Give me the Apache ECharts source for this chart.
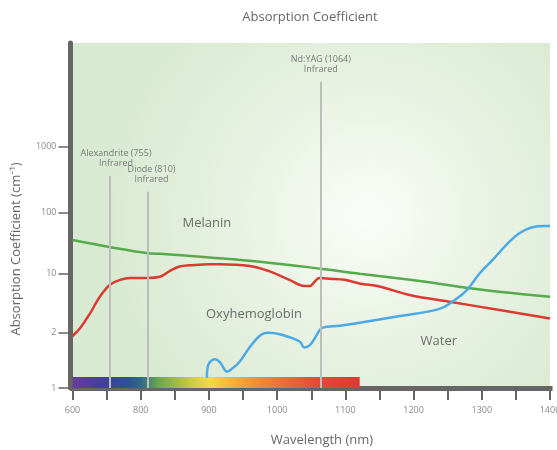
<!DOCTYPE html>
<html>
<head>
<meta charset="utf-8">
<script src="https://cdn.jsdelivr.net/npm/echarts@6/dist/echarts.min.js"></script>
<style>
  html, body { margin: 0; padding: 0; background: #ffffff; }
  #chart { width: 557px; height: 450px; }
</style>
</head>
<body>
<div id="chart"></div>
<script>
// ---------- data ----------
// x axis: wavelength (nm); tick labels exactly as printed on the reference
const xTickValues = [700, 800, 900, 1000, 1100, 1200, 1300, 1400];
const xTickLabels = ['600', '800', '900', '1000', '1100', '1200', '1300', '1400'];
// y axis: illustrative (non-linear) absorption scale, levels and printed labels
const yTickLevels = [0, 0.92, 1.89, 2.9, 4.0];
const yTickLabels = ['1', '2', '10', '100', '1000'];

// Melanin (green)
const melaninNm  = [700, 756, 811, 828, 901, 975, 1067, 1121, 1195, 1220, 1282, 1341, 1400];
const melaninVal = [2.45, 2.33, 2.23, 2.22, 2.16, 2.09, 1.97, 1.89, 1.79, 1.755, 1.65, 1.575, 1.51];

// Oxyhemoglobin (red)
const oxyNm  = [700, 711, 726, 740, 755, 770, 784, 811, 828, 843, 857, 872, 901, 916, 960, 989, 1018, 1040, 1048, 1055, 1062, 1077, 1099, 1121, 1150, 1194, 1257, 1326, 1400];
const oxyVal = [0.86, 0.99, 1.24, 1.51, 1.71, 1.79, 1.82, 1.82, 1.84, 1.94, 2.01, 2.03, 2.05, 2.05, 2.02, 1.93, 1.79, 1.69, 1.69, 1.76, 1.82, 1.81, 1.79, 1.73, 1.68, 1.54, 1.42, 1.29, 1.15];

// Water (blue)
const waterNm  = [897, 899, 909, 916, 927, 935, 945, 960, 975, 986, 1004, 1033, 1040, 1048, 1055, 1067, 1092, 1121, 1180, 1238, 1257, 1278, 1297, 1316, 1336, 1355, 1374, 1392, 1400];
const waterVal = [0.17, 0.38, 0.475, 0.43, 0.27, 0.33, 0.435, 0.68, 0.87, 0.915, 0.89, 0.77, 0.67, 0.71, 0.82, 1.00, 1.03, 1.08, 1.19, 1.31, 1.43, 1.62, 1.90, 2.12, 2.37, 2.56, 2.66, 2.68, 2.68];

// Laser wavelengths
const laserNames  = ['Alexandrite (755)', 'Diode (810)', 'Nd:YAG (1064)'];
const laserNm     = [755, 810, 1064];
const laserTop    = [3.51, 3.25, 5.07];

// Curve name annotations
const curveLabels = ['Melanin', 'Oxyhemoglobin', 'Water'];
const curveLabelNm  = [897, 966, 1237];
const curveLabelVal = [2.73, 1.22, 0.78];

// Visible spectrum band
const spectrumNm = [700, 1121];
const spectrumHeight = 0.18;

// ---------- chart ----------
const FONT = 'Open Sans';
const zip = (a, b) => a.map((v, i) => [v, b[i]]);

const chart = echarts.init(document.getElementById('chart'), null, { renderer: 'canvas' });

const laserOffsets = [[6, 0], [4, 0], [0, 0]];
const laserLines = laserNm.map((nm, i) => [
  { coord: [nm, 0],
    label: { formatter: laserNames[i] + '\nInfrared', offset: laserOffsets[i] } },
  { coord: [nm, laserTop[i]] }
]);

const labelPoint = (i) => ({
  symbol: 'circle', symbolSize: 0, silent: true,
  label: { show: true, position: 'inside', color: '#6b6b6b', fontFamily: FONT, fontSize: 13,
           formatter: curveLabels[i] },
  data: [{ coord: [curveLabelNm[i], curveLabelVal[i]] }]
});

const option = {
  animation: false,
  backgroundColor: '#ffffff',
  title: {
    text: 'Absorption Coefficient',
    left: 310, top: 11, padding: 0,
    textAlign: 'center',
    textStyle: { fontFamily: FONT, fontSize: 13, fontWeight: 'normal', color: '#666666' }
  },
  grid: {
    left: 72.5, right: 7, top: 43, bottom: 62,
    outerBoundsMode: 'none',
    containLabel: false,
    show: true, borderWidth: 0,
    backgroundColor: {
      type: 'radial', x: 0.62, y: 0.5, r: 0.75,
      colorStops: [
        { offset: 0, color: '#fbfdf9' },
        { offset: 0.45, color: '#eaf3e4' },
        { offset: 1, color: '#d9ead2' }
      ]
    }
  },
  xAxis: {
    type: 'value', min: 700, max: 1400, interval: 50,
    axisLine: { show: true, onZero: false, lineStyle: { color: '#666666', width: 5, cap: 'square' } },
    axisTick: { show: true, length: 12, lineStyle: { color: '#666666', width: 2 } },
    axisLabel: {
      margin: 18, color: '#8a8a8a', fontFamily: FONT, fontSize: 9,
      formatter: (v) => {
        const i = xTickValues.indexOf(v);
        return i >= 0 ? xTickLabels[i] : '';
      }
    },
    splitLine: { show: false }
  },
  yAxis: {
    type: 'value', min: 0, max: 5.71, offset: 2,
    axisLine: { show: true, onZero: false, lineStyle: { color: '#666666', width: 5 } },
    axisTick: { show: true, length: 12, customValues: yTickLevels, lineStyle: { color: '#666666', width: 1.5 } },
    axisLabel: {
      margin: 14, color: '#8a8a8a', fontFamily: FONT, fontSize: 9,
      customValues: yTickLevels,
      formatter: (v) => {
        let best = 0;
        yTickLevels.forEach((l, i) => { if (Math.abs(l - v) < Math.abs(yTickLevels[best] - v)) best = i; });
        return yTickLabels[best];
      }
    },
    splitLine: { show: false }
  },
  graphic: [
    { type: 'text', x: 16, y: 249, rotation: Math.PI / 2,
      style: { text: 'Absorption Coefficient (cm\u207B\u00B9)', fill: '#666666', font: '13px "Open Sans"',
               textAlign: 'center', textVerticalAlign: 'middle' } },
    { type: 'text', x: 322, y: 440,
      style: { text: 'Wavelength (nm)', fill: '#666666', font: '13px "Open Sans"',
               textAlign: 'center', textVerticalAlign: 'middle' } }
  ],
  series: [
    {
      name: 'Lasers', type: 'line', data: [], z: 1,
      markLine: {
        silent: true, symbol: 'none',
        lineStyle: { color: '#bdbdbd', width: 2, type: 'solid' },
        label: { show: true, position: 'end', distance: 7, color: '#7a7a7a',
                 fontFamily: FONT, fontSize: 9, lineHeight: 10 },
        data: laserLines
      }
    },
    {
      name: 'Melanin', type: 'line', z: 2, smooth: 0.4, symbol: 'none',
      lineStyle: { color: '#55aa4c', width: 2.5 },
      data: zip(melaninNm, melaninVal),
      markPoint: labelPoint(0)
    },
    {
      name: 'Oxyhemoglobin', type: 'line', z: 2, smooth: 0.4, symbol: 'none',
      lineStyle: { color: '#dc3a30', width: 2.5 },
      data: zip(oxyNm, oxyVal),
      markPoint: labelPoint(1)
    },
    {
      name: 'Water', type: 'line', z: 2, smooth: 0.4, symbol: 'none',
      lineStyle: { color: '#4aa9e6', width: 2.5 },
      data: zip(waterNm, waterVal),
      markPoint: labelPoint(2)
    },
    {
      name: 'Spectrum', type: 'line', data: [], z: 3,
      markArea: {
        silent: true,
        itemStyle: {
          color: new echarts.graphic.LinearGradient(0, 0, 1, 0, [
            { offset: 0, color: '#6a3d9a' },
            { offset: 0.08, color: '#4a3f98' },
            { offset: 0.13, color: '#3a4595' },
            { offset: 0.2, color: '#2d5592' },
            { offset: 0.24, color: '#2f6a88' },
            { offset: 0.27, color: '#4f8a6a' },
            { offset: 0.3, color: '#6aa84f' },
            { offset: 0.355, color: '#9bb84a' },
            { offset: 0.42, color: '#cfcc48' },
            { offset: 0.48, color: '#f5d84a' },
            { offset: 0.56, color: '#f0b040' },
            { offset: 0.65, color: '#ea8c3c' },
            { offset: 0.76, color: '#e06a38' },
            { offset: 0.86, color: '#dd4c36' },
            { offset: 1, color: '#d93a35' }
          ]),
          opacity: 1
        },
        data: [[{ coord: [spectrumNm[0], 0] }, { coord: [spectrumNm[1], spectrumHeight] }]]
      }
    }
  ]
};

chart.setOption(option);
</script>
</body>
</html>
